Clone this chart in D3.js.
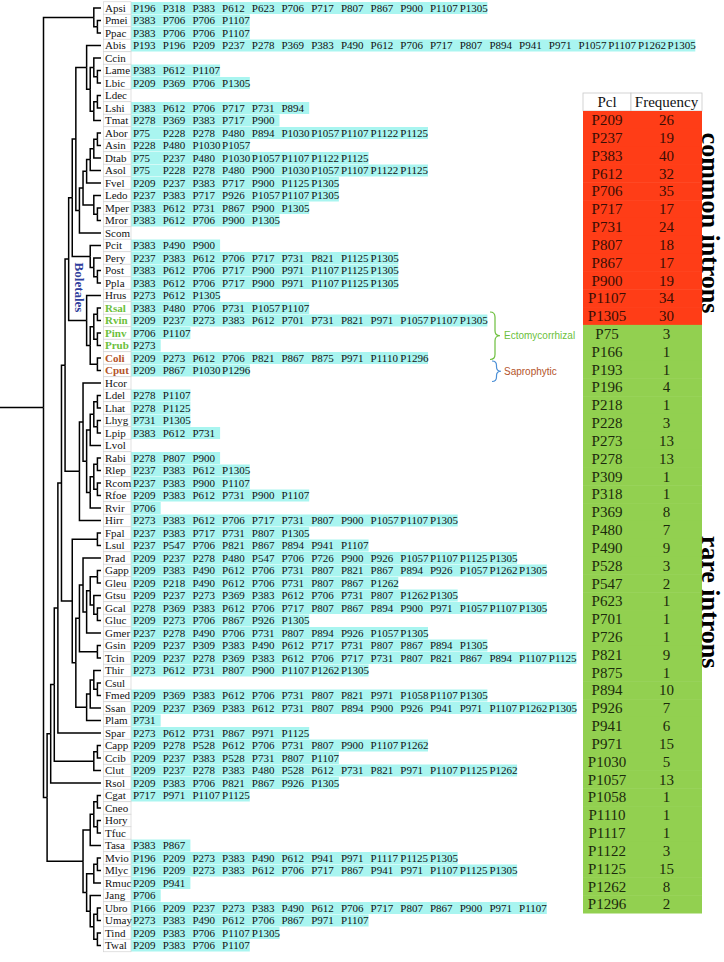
<!DOCTYPE html>
<html><head><meta charset="utf-8">
<script src="https://cdn.jsdelivr.net/npm/d3@7"></script>
<style>body{margin:0;background:#fff}</style>
</head><body><svg id="c" width="724" height="962"></svg>
<script>
// ---------------- DATA ----------------
const species = ["Apsi","Pmei","Ppac","Abis","Ccin","Lame","Lbic","Ldec","Lshi","Tmat","Abor","Asin","Dtab","Asol","Fvel","Ledo","Mper","Mror","Scom","Pcit","Pery","Post","Ppla","Hrus","Rsal","Rvin","Pinv","Prub","Coli","Cput","Hcor","Ldel","Lhat","Lhyg","Lpip","Lvol","Rabi","Rlep","Rcom","Rfoe","Rvir","Hirr","Fpal","Lsul","Prad","Gapp","Gleu","Gtsu","Gcal","Gluc","Gmer","Gsin","Tcin","Thir","Csul","Fmed","Ssan","Plam","Spar","Capp","Ccib","Clut","Rsol","Cgat","Cneo","Hory","Tfuc","Tasa","Mvio","Mlyc","Rmuc","Jang","Ubro","Umay","Tind","Twal"];

const intronLists = [
[196,318,383,612,623,706,717,807,867,900,1107,1305],
[383,706,706,1107],
[383,706,706,1107],
[193,196,209,237,278,369,383,490,612,706,717,807,894,941,971,1057,1107,1262,1305],
[],
[383,612,1107],
[209,369,706,1305],
[],
[383,612,706,717,731,894],
[278,369,383,717,900],
[75,228,278,480,894,1030,1057,1107,1122,1125],
[228,480,1030,1057],
[75,237,480,1030,1057,1107,1122,1125],
[75,228,278,480,900,1030,1057,1107,1122,1125],
[209,237,383,717,900,1125,1305],
[237,383,717,926,1057,1107,1305],
[383,612,731,867,900,1305],
[383,612,706,900,1305],
[],
[383,490,900],
[237,383,612,706,717,731,821,1125,1305],
[383,612,706,717,900,971,1107,1125,1305],
[383,612,706,717,900,971,1107,1125,1305],
[273,612,1305],
[383,480,706,731,1057,1107],
[209,237,273,383,612,701,731,821,971,1057,1107,1305],
[706,1107],
[273],
[209,273,612,706,821,867,875,971,1110,1296],
[209,867,1030,1296],
[],
[278,1107],
[278,1125],
[731,1305],
[383,612,731],
[],
[278,807,900],
[237,383,612,1305],
[237,383,900,1107],
[209,383,612,731,900,1107],
[706],
[273,383,612,706,717,731,807,900,1057,1107,1305],
[237,383,717,731,807,1305],
[237,547,706,821,867,894,941,1107],
[209,237,278,480,547,706,726,900,926,1057,1107,1125,1305],
[209,383,490,612,706,731,807,821,867,894,926,1057,1262,1305],
[209,218,490,612,706,731,807,867,1262],
[209,237,273,369,383,612,706,731,807,1262,1305],
[278,369,383,612,706,717,807,867,894,900,971,1057,1107,1305],
[209,273,706,867,926,1305],
[237,278,490,706,731,807,894,926,1057,1305],
[209,237,309,383,490,612,717,731,807,867,894,1305],
[209,237,278,369,383,612,706,717,731,807,821,867,894,1107,1125],
[273,612,731,807,900,1107,1262,1305],
[],
[209,369,383,612,706,731,807,821,971,1058,1107,1305],
[209,237,369,383,612,731,807,894,900,926,941,971,1107,1262,1305],
[731],
[273,612,731,867,971,1125],
[209,278,528,612,706,731,807,900,1107,1262],
[209,237,383,528,731,807,1107],
[209,237,278,383,480,528,612,731,821,971,1107,1125,1262],
[209,383,706,821,867,926,1305],
[717,971,1107,1125],
[],
[],
[],
[383,867],
[196,209,273,383,490,612,941,971,1117,1125,1305],
[196,209,273,383,612,706,717,867,941,971,1107,1125,1305],
[209,941],
[706],
[166,209,237,273,383,490,612,706,717,807,867,900,971,1107],
[273,383,490,612,706,867,971,1107],
[209,383,706,1107,1305],
[209,383,706,1107]
];

// tree topology (nested clades)
const agaricales = [
  [
    ["Abis", [["Ccin",["Lame","Lbic"]], [["Ldec","Lshi"],"Tmat"]]],
    [[[[[["Abor","Asin"],"Dtab"],"Asol"],"Fvel"], ["Ledo",["Mper","Mror"]]], "Scom"]
  ],
  ["Pcit",["Pery",["Post","Ppla"]]]
];
const boletales = ["Hrus", [[["Rsal","Rvin"],["Pinv","Prub"]], ["Coli","Cput"]]];
const russulales = [["Hcor", [[[["Ldel","Lhat"],["Lhyg","Lpip"]],"Lvol"], [[["Rabi","Rlep"],["Rcom","Rfoe"]],"Rvir"]]], "Hirr"];
const polyporales = [["Fpal","Lsul"], [[["Prad",[[["Gapp","Gleu"],["Gtsu",["Gcal","Gluc"]]],"Gmer"]], ["Gsin","Tcin"]], [[["Thir",["Csul","Fmed"]],"Ssan"],"Plam"]]];
const cantharellales = [["Capp","Ccib"],"Clut"];
const basalClade = [[[["Cgat","Cneo"],["Hory","Tfuc"]],"Tasa"], [[["Mvio","Mlyc"],"Rmuc"], ["Jang",[["Ubro","Umay"],["Tind","Twal"]]]]];
const topClade = ["Apsi",["Pmei","Ppac"]];
const ladder = [[[[[[agaricales, boletales], russulales], polyporales], "Spar"], cantharellales], "Rsol"];
const rootTopology = [topClade, [ladder, basalClade]];

const ectomycorrhizal = ["Rsal","Rvin","Pinv","Prub"];
const saprophytic = ["Coli","Cput"];
const groupLabels = ["Ectomycorrhizal","Saprophytic"];
const cladeLabel = "Boletales";

const tableHeader = ["Pcl","Frequency"];
const commonPcl = ["P209","P237","P383","P612","P706","P717","P731","P807","P867","P900","P1107","P1305"];
const commonFreq = [26,19,40,32,35,17,24,18,17,19,34,30];
const rarePcl = ["P75","P166","P193","P196","P218","P228","P273","P278","P309","P318","P369","P480","P490","P528","P547","P623","P701","P726","P821","P875","P894","P926","P941","P971","P1030","P1057","P1058","P1110","P1117","P1122","P1125","P1262","P1296"];
const rareFreq = [3,1,1,4,1,3,13,13,1,1,8,7,9,3,2,1,1,1,9,1,10,7,6,15,5,13,1,1,1,3,15,8,2];
const sideLabels = ["common introns","rare introns"];

// ---------------- DRAW ----------------
const svg = d3.select("#c");
const serif = "'Liberation Serif','Times New Roman',serif";
const sans = "'Liberation Sans',Arial,sans-serif";

const rowY = d3.scalePoint().domain(species).range([8, 945.5]);
const rowH = 12.5;

const root = d3.hierarchy(rootTopology, d => Array.isArray(d) ? d : null);
root.eachAfter(n => { n.vy = n.children ? d3.mean(n.children, c => c.vy) : rowY(n.data); });
const treeX = d3.scaleLinear().domain([root.height, 0]).range([43.5, 101]);

const gTree = svg.append("g").attr("fill","none").attr("stroke","#000").attr("stroke-width",1.5);
gTree.append("path").attr("d", `M0,${root.vy}H${treeX(root.height)}`);
root.descendants().filter(n => n.parent).forEach(c => {
  const p = c.parent;
  gTree.append("path").attr("d", `M${treeX(p.height)},${p.vy}V${c.vy}H${treeX(c.height)}`);
});

// cell scale
const cellX = d3.scaleLinear().domain([0,1]).range([131, 160.7]);
const labelX0 = 103.5;

// cyan rows
const gRows = svg.append("g");
species.forEach((s,i) => {
  const list = intronLists[i];
  const y = rowY(s);
  if (list.length) {
    gRows.append("rect").attr("x", cellX(0)).attr("y", y - 6).attr("width", cellX(list.length) - cellX(0)).attr("height", 12)
      .attr("fill", "#a9f5f0");
  }
  gRows.append("rect").attr("x", labelX0).attr("y", y - rowH/2).attr("width", cellX(0) - labelX0).attr("height", rowH)
    .attr("fill","#fff").attr("stroke","#d4d4d4").attr("stroke-width",0.7);
});
species.forEach((s,i) => {
  const y = rowY(s);
  const isE = ectomycorrhizal.includes(s), isS = saprophytic.includes(s);
  gRows.append("text").attr("x", labelX0 + 1.5).attr("y", y).attr("dy","0.35em")
    .attr("font-family", serif).attr("font-size", 11)
    .attr("font-weight", (isE||isS) ? "bold" : "normal")
    .attr("fill", isE ? "#6cbf3c" : isS ? "#b4542a" : "#111").text(s);
  intronLists[i].forEach((v,j) => {
    gRows.append("text").attr("x", cellX(j) + 2).attr("y", y).attr("dy","0.35em")
      .attr("font-family", serif).attr("font-size", 11).attr("fill","#111").text("P" + v);
  });
});

// Boletales label
const bolNode = root.descendants().find(n => n.data === boletales);
const bolX = treeX(bolNode.parent.height) + 6;
const bolY = rowY("Hrus") - 8;
svg.append("text").attr("transform", `translate(${bolX},${bolY}) rotate(90)`)
  .attr("text-anchor","middle").attr("font-family", serif).attr("font-size", 13).attr("font-weight","bold")
  .attr("fill","#2e3d9c").text(cladeLabel);

// braces
function brace(x0, y1, y2, w) {
  const xm = x0 + w/2, ym = (y1+y2)/2, r = Math.min(w/2, (y2-y1)/4);
  return `M${x0},${y1} Q${xm},${y1} ${xm},${y1+r} L${xm},${ym-r} Q${xm},${ym} ${x0+w},${ym} Q${xm},${ym} ${xm},${ym+r} L${xm},${y2-r} Q${xm},${y2} ${x0},${y2}`;
}
const braceX = 490;
const e1 = rowY(ectomycorrhizal[0]) + 4, e2 = rowY(ectomycorrhizal[ectomycorrhizal.length-1]) + 14;
svg.append("path").attr("d", brace(braceX, e1, e2, 10)).attr("fill","none").attr("stroke","#6cbf3c").attr("stroke-width",1.2);
svg.append("text").attr("x", braceX + 14).attr("y", (e1+e2)/2).attr("dy","0.35em")
  .attr("font-family", sans).attr("font-size", 10).attr("fill","#6cbf3c").text(groupLabels[0]);
const s1 = rowY(saprophytic[0]) + 3, s2 = rowY(saprophytic[1]) + 11;
svg.append("path").attr("d", brace(braceX + 2, s1, s2, 9)).attr("fill","none").attr("stroke","#4b8fd6").attr("stroke-width",1.2);
svg.append("text").attr("x", braceX + 14).attr("y", (s1+s2)/2).attr("dy","0.35em")
  .attr("font-family", sans).attr("font-size", 10).attr("fill","#b4542a").text(groupLabels[1]);

// table
const allPcl = commonPcl.concat(rarePcl);
const allFreq = commonFreq.concat(rareFreq);
const tRow = d3.scaleBand().domain(allPcl).range([111, 913]);
const colX = d3.scaleOrdinal().domain(tableHeader).range([583, 631]);
const colW = d3.scaleOrdinal().domain(tableHeader).range([48, 71]);
const gT = svg.append("g");
tableHeader.forEach(h => {
  gT.append("rect").attr("x", colX(h)).attr("y", 93).attr("width", colW(h)).attr("height", 18)
    .attr("fill","#fff").attr("stroke","#c8c8c8").attr("stroke-width",0.8);
  gT.append("text").attr("x", colX(h) + colW(h)/2).attr("y", 102).attr("dy","0.35em").attr("text-anchor","middle")
    .attr("font-family", serif).attr("font-size", 15).attr("fill","#111").text(h);
});
allPcl.forEach((p,i) => {
  const common = i < commonPcl.length;
  gT.append("rect").attr("x", colX(tableHeader[0])).attr("y", tRow(p)).attr("width", colW(tableHeader[0]) + colW(tableHeader[1]))
    .attr("height", tRow.bandwidth() + 0.5).attr("fill", common ? "#ff3d17" : "#92d050");
});
allPcl.forEach((p,i) => {
  const common = i < commonPcl.length;
  const col = common ? "#3a0d04" : "#1c2a0c";
  const y = tRow(p) + tRow.bandwidth()/2;
  gT.append("text").attr("x", colX(tableHeader[0]) + colW(tableHeader[0])/2).attr("y", y).attr("dy","0.35em")
    .attr("text-anchor","middle").attr("font-family", serif).attr("font-size", 15).attr("fill", col).text(p);
  gT.append("text").attr("x", colX(tableHeader[1]) + colW(tableHeader[1])/2).attr("y", y).attr("dy","0.35em")
    .attr("text-anchor","middle").attr("font-family", serif).attr("font-size", 15).attr("fill", col).text(allFreq[i]);
});

// side labels
const commonMid = 223, rareMid = 602;
svg.append("text").attr("transform", `translate(702,${commonMid}) rotate(90)`).attr("text-anchor","middle")
  .attr("font-family", serif).attr("font-size", 26).attr("font-weight","bold").attr("fill","#000").text(sideLabels[0]);
svg.append("text").attr("transform", `translate(702,${rareMid}) rotate(90)`).attr("text-anchor","middle")
  .attr("font-family", serif).attr("font-size", 26).attr("font-weight","bold").attr("fill","#000").text(sideLabels[1]);
</script>
</body></html>
